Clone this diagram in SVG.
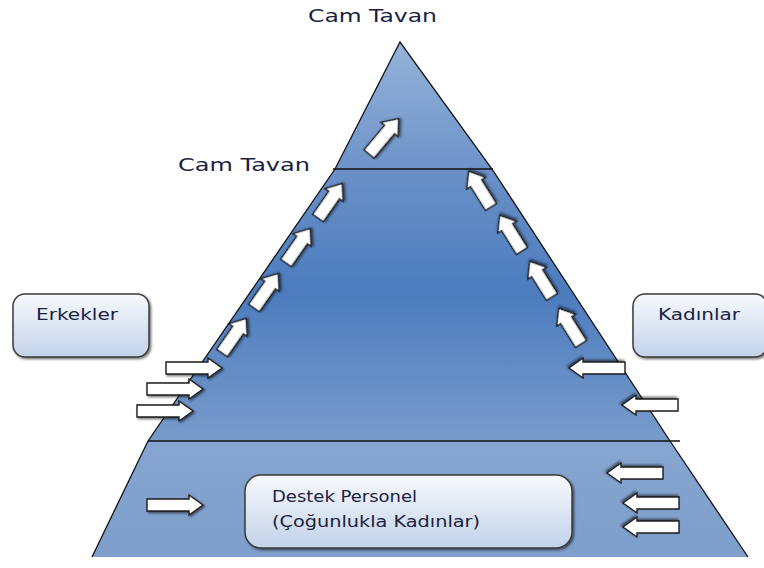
<svg xmlns="http://www.w3.org/2000/svg" xmlns:xlink="http://www.w3.org/1999/xlink" width="764" height="568" viewBox="0 0 764 568">
  <style>
    .lbl { font-family: "DejaVu Sans", "Liberation Sans", sans-serif; fill: #1a2240; }
    .big { font-size: 18px; }
    .mid { font-size: 16px; }
    .box { fill: url(#boxFill); stroke: #3a3a3a; stroke-width: 1.5; filter: url(#shadow); }
    .arrow { fill: #ffffff; stroke: #1e1e1e; stroke-width: 1.4; stroke-linejoin: miter; filter: url(#shadow); }
    .edge { fill: none; stroke: #111; stroke-width: 1.3; }
    .tier { stroke: #111; stroke-width: 1.6; }
  </style>
  <defs>
    <linearGradient id="topFill" x1="0" y1="0" x2="0" y2="1">
      <stop offset="0" stop-color="#95b3da"/>
      <stop offset="1" stop-color="#6d93c8"/>
    </linearGradient>
    <linearGradient id="midFill" x1="0" y1="0" x2="0" y2="1">
      <stop offset="0" stop-color="#6b91c7"/>
      <stop offset="0.45" stop-color="#4c7cbe"/>
      <stop offset="1" stop-color="#789bcb"/>
    </linearGradient>
    <linearGradient id="baseFill" x1="0" y1="0" x2="0" y2="1">
      <stop offset="0" stop-color="#86a6d1"/>
      <stop offset="1" stop-color="#7e9ecb"/>
    </linearGradient>
    <linearGradient id="boxFill" x1="0" y1="0" x2="0" y2="1">
      <stop offset="0" stop-color="#f7f9fd"/>
      <stop offset="1" stop-color="#c2d2e8"/>
    </linearGradient>
    <filter id="shadow" x="-20%" y="-20%" width="150%" height="150%">
      <feDropShadow dx="1.5" dy="1.5" stdDeviation="1" flood-color="#000" flood-opacity="0.55"/>
    </filter>
    <!-- block arrows, tail at origin, pointing along +x -->
    <path id="arrowLong" d="M0,-6 H42 V-10 L56,0 L42,10 V6 H0 Z"/>
    <path id="arrowShort" d="M0,-6.5 H28 V-11 L42,0 L28,11 V6.5 H0 Z"/>
    <path id="arrowMid" d="M0,-6.5 H32 V-11 L46,0 L32,11 V6.5 H0 Z"/>
  </defs>

  <!-- pyramid tiers -->
  <g id="pyramid">
    <polygon points="400,42 492,169 335,169" fill="url(#topFill)"/>
    <polygon points="335,169 492,169 670,441 148,441" fill="url(#midFill)"/>
    <polygon points="148,441 670,441 748,557 92,557" fill="url(#baseFill)"/>
    <polyline class="edge" points="92,557 148,441 335,169 400,42 492,169 670,441 748,557"/>
    <line class="tier" x1="333" y1="169" x2="493" y2="169"/>
    <line class="tier" x1="148" y1="441" x2="680" y2="441"/>
    <line x1="90" y1="558" x2="750" y2="558" stroke="#1c2a44" stroke-width="3" filter="url(#shadow)"/>
  </g>

  <!-- ceiling labels -->
  <g id="label-top">
    <text class="lbl big" x="308" y="22" textLength="129" lengthAdjust="spacingAndGlyphs">Cam Tavan</text>
  </g>
  <g id="label-mid">
    <text class="lbl big" x="178" y="171" textLength="132" lengthAdjust="spacingAndGlyphs">Cam Tavan</text>
  </g>

  <!-- side boxes -->
  <g id="erkekler">
    <rect class="box" x="13" y="294" width="136" height="63" rx="12"/>
    <text class="lbl mid" x="36" y="320" textLength="82" lengthAdjust="spacingAndGlyphs">Erkekler</text>
  </g>
  <g id="kadinlar">
    <rect class="box" x="633" y="294" width="134" height="63" rx="12"/>
    <text class="lbl mid" x="658" y="320" textLength="82" lengthAdjust="spacingAndGlyphs">Kadınlar</text>
  </g>
  <g id="destek">
    <rect class="box" x="245" y="475" width="327" height="73" rx="16"/>
    <text class="lbl mid" x="272" y="502" textLength="145" lengthAdjust="spacingAndGlyphs">Destek Personel</text>
    <text class="lbl mid" x="272" y="527" textLength="208" lengthAdjust="spacingAndGlyphs">(Çoğunlukla Kadınlar)</text>
  </g>

  <!-- arrows -->
  <g id="connectors">
    <!-- entering from the left -->
    <use class="arrow" xlink:href="#arrowLong" transform="translate(166,368)"/>
    <use class="arrow" xlink:href="#arrowLong" transform="translate(147,389)"/>
    <use class="arrow" xlink:href="#arrowLong" transform="translate(137,411)"/>
    <use class="arrow" xlink:href="#arrowLong" transform="translate(147,505)"/>
    <!-- entering from the right -->
    <use class="arrow" xlink:href="#arrowLong" transform="translate(625,368) rotate(180)"/>
    <use class="arrow" xlink:href="#arrowLong" transform="translate(678,405) rotate(180)"/>
    <use class="arrow" xlink:href="#arrowLong" transform="translate(663,473) rotate(180)"/>
    <use class="arrow" xlink:href="#arrowLong" transform="translate(679,503) rotate(180)"/>
    <use class="arrow" xlink:href="#arrowLong" transform="translate(679,527) rotate(180)"/>
    <!-- climbing the left side -->
    <use class="arrow" xlink:href="#arrowShort" transform="translate(222,353) rotate(-55)"/>
    <use class="arrow" xlink:href="#arrowShort" transform="translate(254,308) rotate(-55)"/>
    <use class="arrow" xlink:href="#arrowShort" transform="translate(286,263) rotate(-55)"/>
    <use class="arrow" xlink:href="#arrowShort" transform="translate(318,218) rotate(-55)"/>
    <!-- through the upper ceiling -->
    <use class="arrow" xlink:href="#arrowMid" transform="translate(369,154) rotate(-50)"/>
    <!-- climbing the right side -->
    <use class="arrow" xlink:href="#arrowShort" transform="translate(581,344) rotate(-122)"/>
    <use class="arrow" xlink:href="#arrowShort" transform="translate(552,297) rotate(-122)"/>
    <use class="arrow" xlink:href="#arrowShort" transform="translate(522,251) rotate(-122)"/>
    <use class="arrow" xlink:href="#arrowShort" transform="translate(491,207) rotate(-122)"/>
  </g>
</svg>
